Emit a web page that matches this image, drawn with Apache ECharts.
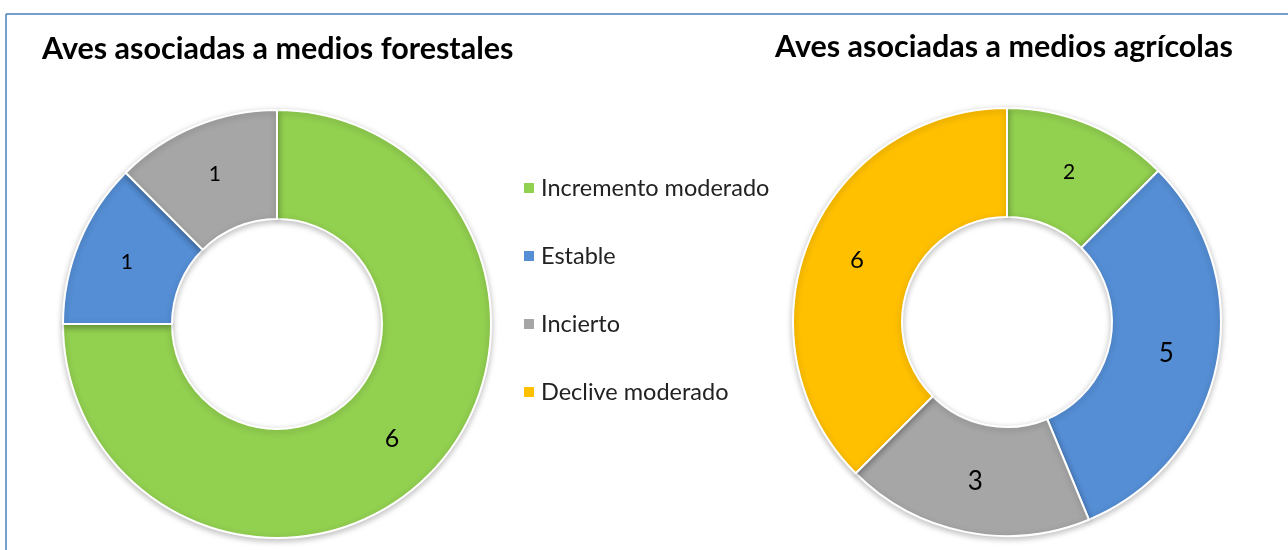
<!DOCTYPE html>
<html><head><meta charset="utf-8">
<script src="https://cdn.jsdelivr.net/npm/echarts@6/dist/echarts.min.js"></script>
<style>html,body{margin:0;padding:0;background:#fff}#c{width:1288px;height:550px}</style>
</head><body><div id="c"></div>
<script>
const categories = ['Incremento moderado', 'Estable', 'Incierto', 'Declive moderado'];
const forestValues = [6, 1, 1];
const agriValues = [2, 5, 3, 6];
const titles = ['Aves asociadas a medios forestales', 'Aves asociadas a medios agrícolas'];

const colors = ['#92D050', '#558ED5', '#A6A6A6', '#FFC000'];
const forestLabelSizes = [25, 21, 21];
const agriLabelSizes = [21, 26, 26, 24];
const FONT = 'Lato, "Open Sans", sans-serif';

function mk(vals, sizes) {
  return vals.map((v, i) => ({
    name: categories[i], value: v,
    label: { fontSize: sizes[i] }
  }));
}

const chart = echarts.init(document.getElementById('c'), null, { renderer: 'canvas' });
const pieBase = {
  type: 'pie',
  radius: [105, 214],
  startAngle: 90,
  clockwise: true,
  avoidLabelOverlap: false,
  label: { show: true, position: 'inside', formatter: '{c}', color: '#000', fontFamily: FONT },
  labelLine: { show: false },
  emphasis: { disabled: true },
  itemStyle: { borderColor: '#fff', borderWidth: 2, shadowBlur: 6, shadowColor: 'rgba(0,0,0,0.25)', shadowOffsetY: 2 },
  animation: false
};
chart.setOption({
  animation: false,
  color: colors,
  title: [
    { text: titles[0], left: 37, top: 29, textStyle: { fontFamily: FONT, fontWeight: 'bold', fontSize: 30.5, color: '#000' } },
    { text: titles[1], left: 770, top: 27, textStyle: { fontFamily: FONT, fontWeight: 'bold', fontSize: 30.5, color: '#000' } }
  ],
  legend: {
    orient: 'vertical', left: 517, top: 171,
    data: categories,
    icon: 'rect', itemWidth: 12, itemHeight: 12, itemGap: 44,
    textStyle: { fontFamily: FONT, fontSize: 23.5, color: '#222', padding: [0, 0, 0, 1] },
    selectedMode: false
  },
  graphic: [
    { type: 'line', shape: { x1: 6, y1: 14, x2: 1288, y2: 14 }, style: { stroke: '#4A7EBB', lineWidth: 1.5 } },
    { type: 'line', shape: { x1: 6, y1: 14, x2: 6, y2: 550 }, style: { stroke: '#4A7EBB', lineWidth: 1.5 } }
  ],
  series: [
    Object.assign({}, pieBase, { center: [277, 324], data: mk(forestValues, forestLabelSizes) }),
    Object.assign({}, pieBase, { center: [1007, 322], data: mk(agriValues, agriLabelSizes) })
  ]
});
</script></body></html>
